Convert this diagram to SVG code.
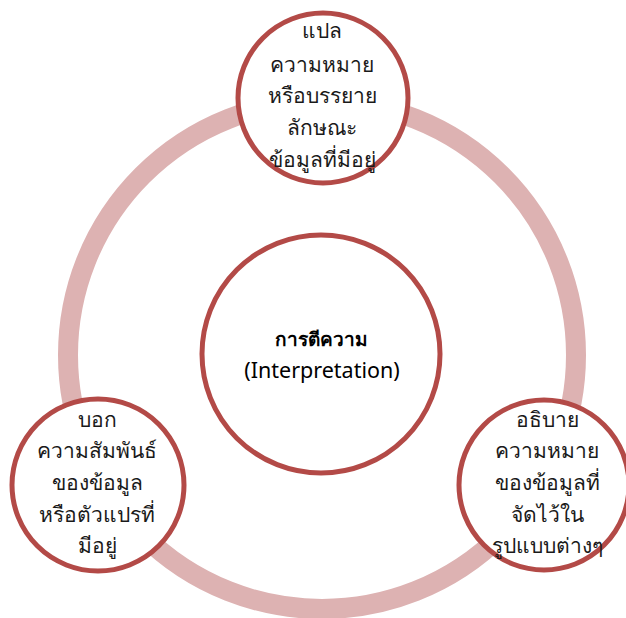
<svg xmlns="http://www.w3.org/2000/svg" width="626" height="618" viewBox="0 0 626 618">
<style>
.node{fill:#ffffff;stroke:#b34a47;stroke-width:5}
.t{font-family:"Noto Sans","Liberation Sans",sans-serif;font-size:21px;fill:#1a1a1a;text-anchor:middle}
.c{font-family:"Noto Sans","Liberation Sans",sans-serif;font-size:19px;fill:#000;text-anchor:middle}
</style>
<rect width="626" height="618" fill="#ffffff"/>
<g id="connectors">
<circle cx="322" cy="355" r="254" fill="none" stroke="#ddb2b2" stroke-width="20"/>
</g>
<g id="center">
<circle class="node" cx="321" cy="354" r="119"/>
<text class="c" x="321" y="346" font-weight="bold">การตีความ</text>
<text class="c" x="322" y="378" style="font-size:21.5px">(Interpretation)</text>
</g>
<g id="top">
<circle class="node" cx="323" cy="98" r="85"/>
<text class="t" x="322" y="38">แปล</text>
<text class="t" x="322" y="72">ความหมาย</text>
<text class="t" x="322" y="103">หรือบรรยาย</text>
<text class="t" x="322" y="135">ลักษณะ</text>
<text class="t" x="322" y="167">ข้อมูลที่มีอยู่</text>
</g>
<g id="bottom-left">
<circle class="node" cx="98" cy="485" r="86"/>
<text class="t" x="97" y="427">บอก</text>
<text class="t" x="97" y="458">ความสัมพันธ์</text>
<text class="t" x="97" y="490">ของข้อมูล</text>
<text class="t" x="97" y="522">หรือตัวแปรที่</text>
<text class="t" x="97" y="553">มีอยู่</text>
</g>
<g id="bottom-right">
<circle class="node" cx="544" cy="485" r="85"/>
<text class="t" x="547" y="427">อธิบาย</text>
<text class="t" x="547" y="458">ความหมาย</text>
<text class="t" x="547" y="490">ของข้อมูลที่</text>
<text class="t" x="547" y="522">จัดไว้ใน</text>
<text class="t" x="547" y="553">รูปแบบต่างๆ</text>
</g>
</svg>
